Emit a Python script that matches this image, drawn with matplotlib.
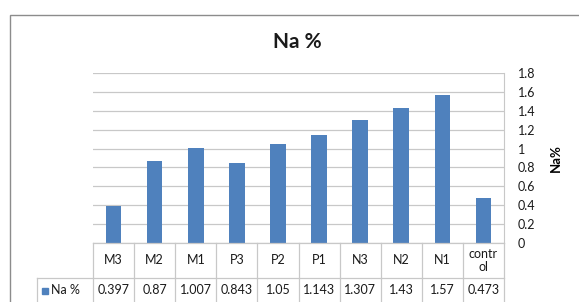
import matplotlib.pyplot as plt
from matplotlib.patches import Rectangle
from matplotlib.lines import Line2D

plt.rcParams["font.family"] = ["Lato", "DejaVu Sans"]

categories = ["M3", "M2", "M1", "P3", "P2", "P1", "N3", "N2", "N1", "contr\nol"]
na_values = [0.397, 0.87, 1.007, 0.843, 1.05, 1.143, 1.307, 1.43, 1.57, 0.473]
cell_text = ["0.397", "0.87", "1.007", "0.843", "1.05", "1.143", "1.307", "1.43", "1.57", "0.473"]
yticks = [0, 0.2, 0.4, 0.6, 0.8, 1, 1.2, 1.4, 1.6, 1.8]

BAR_COLOR = "#4F81BD"
GRID = "#C8C8C8"
TXT = "#1a1a1a"
W, H = 579, 302

fig = plt.figure(figsize=(W / 100, H / 100), dpi=100)

# outer chart frame (runs off the right/bottom edge)
fig.patches.append(Rectangle((10 / W, -0.1), 1.0, (H - 15) / H + 0.1,
                             transform=fig.transFigure, fill=False,
                             edgecolor="#8C8C8C", lw=1.0))

left, right, top, zero = 93, 504, 73, 243
ax = fig.add_axes([left / W, (H - zero) / H, (right - left) / W, (zero - top) / H])
x = range(len(categories))
ax.bar(x, na_values, width=0.38, color=BAR_COLOR, zorder=3)
ax.set_xlim(-0.5, len(categories) - 0.5)
ax.set_ylim(0, 1.8)
ax.set_yticks(yticks)
ax.set_yticklabels([f"{t:g}" for t in yticks])
ax.yaxis.tick_right()
ax.tick_params(axis="y", length=0, labelsize=9, pad=10, colors=TXT)
ax.set_xticks([])
ax.grid(True, axis="y", color=GRID, lw=0.9, zorder=0)
for s in ["top", "left", "bottom"]:
    ax.spines[s].set_visible(False)
ax.spines["right"].set_color(GRID)
ax.yaxis.set_label_position("right")
ax.set_ylabel("Na%", fontsize=9.5, fontweight="bold", rotation=90, labelpad=10)

fig.text(297 / W, 1 - 42 / H, "Na %", ha="center", va="center",
         fontsize=15, fontweight="bold", color=TXT)

# data table underneath
def fx(px):
    return px / W

def fy(py):
    return 1 - py / H

row1_bot, row2_bot = 278, 305
tl = dict(transform=fig.transFigure, color=GRID, lw=0.9)
col_w = (right - left) / len(categories)
fig.lines.append(Line2D([fx(left), fx(right)], [fy(zero), fy(zero)], **tl))
fig.lines.append(Line2D([fx(37), fx(right)], [fy(row1_bot), fy(row1_bot)], **tl))
fig.lines.append(Line2D([fx(37), fx(37)], [fy(row1_bot), fy(row2_bot)], **tl))
for i in range(len(categories) + 1):
    xp = left + i * col_w
    fig.lines.append(Line2D([fx(xp), fx(xp)], [fy(zero), fy(row2_bot)], **tl))

for i, (c, v) in enumerate(zip(categories, cell_text)):
    xc = left + (i + 0.5) * col_w
    fig.text(fx(xc), fy((zero + row1_bot) / 2), c, ha="center", va="center",
             fontsize=9, color=TXT, linespacing=1.1)
    fig.text(fx(xc), fy((row1_bot + 302) / 2), v, ha="center", va="center",
             fontsize=9, color=TXT)

fig.patches.append(Rectangle((fx(42), fy(294)), 6 / W, 6 / H,
                             transform=fig.transFigure, color=BAR_COLOR))
fig.text(fx(51), fy(290), "Na %", ha="left", va="center", fontsize=9, color=TXT)

fig.savefig("out.png", dpi=100)
